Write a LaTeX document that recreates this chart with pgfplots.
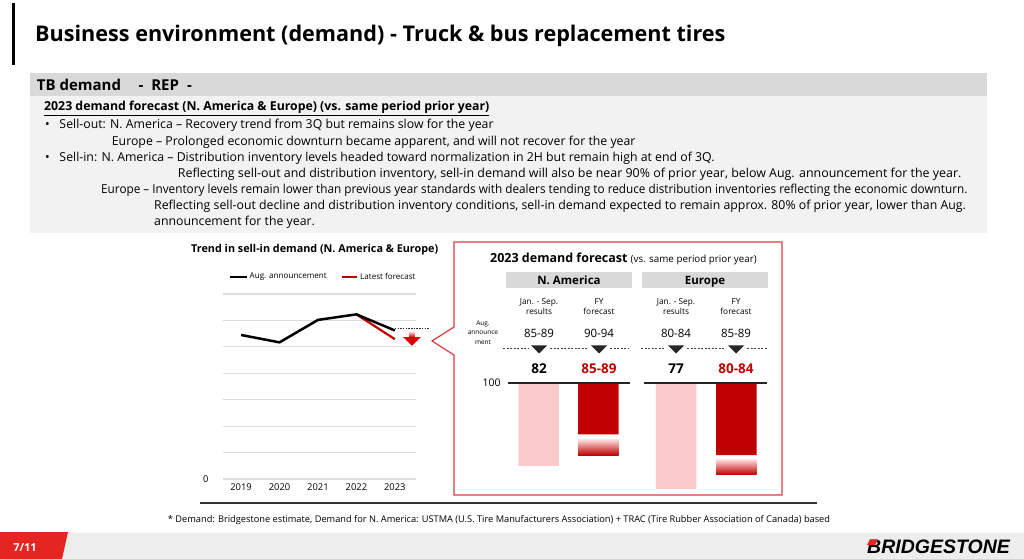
\documentclass[border=0pt]{standalone}
\usepackage{pgfplots}
\pgfplotsset{compat=1.18}
\usepackage{fontspec}
\setmainfont{Open Sans}
\newfontfamily\logofont{Liberation Sans}
\definecolor{hdrgray}{HTML}{D9D9D9}
\definecolor{boxgray}{HTML}{F2F2F2}
\definecolor{dred}{HTML}{C00000}
\definecolor{pinkbar}{HTML}{FBCBCB}
\definecolor{boxred}{HTML}{DF3A44}
\definecolor{footred}{HTML}{E52521}
\definecolor{footgray}{HTML}{EDEDED}
\definecolor{gridgray}{HTML}{DCDCDC}
\newcommand{\fs}[1]{\fontsize{#1bp}{#1bp}\selectfont}
\begin{document}
\begin{tikzpicture}
\begin{scope}[x=1bp,y=-1bp]
\fill[white] (0,0) rectangle (1024,559);
\fill[black] (11.5,3) rectangle (14.5,65);
\node[anchor=base west, inner sep=0] at (35,42) {\fs{21.6}\bfseries Business environment (demand) - Truck \& bus replacement tires};
\fill[hdrgray] (30,73) rectangle (987,96);
\fill[boxgray] (30,96) rectangle (987,233);
\node[anchor=base west, inner sep=0] at (36.7,90.5) {\fs{15}\bfseries TB demand};
\node[anchor=base west, inner sep=0] at (138.3,90.5) {\fs{15}\bfseries -\hspace{8bp}REP\hspace{8bp}-};
\begin{scope}[every node/.style={anchor=base west, inner sep=0, font=\fs{12.3}}]
\node at (44,110.7) {\bfseries\underline{2023 demand forecast (N. America \& Europe) (vs. same period prior year)}};
\node at (45,129) {•};
\node at (59.3,129) {Sell-out: N. America – Recovery trend from 3Q but remains slow for the year};
\node at (111.7,145.3) {Europe – Prolonged economic downturn became apparent, and will not recover for the year};
\node at (45,161.7) {•};
\node at (59.3,161.7) {Sell-in: N. America – Distribution inventory levels headed toward normalization in 2H but remain high at end of 3Q.};
\node at (177.7,177.5) {\scalebox{1.01}[1]{Reflecting sell-out and distribution inventory, sell-in demand will also be near 90\% of prior year, below Aug. announcement for the year.}};
\node at (101,193.5) {\scalebox{0.955}[1]{Europe – Inventory levels remain lower than previous year standards with dealers tending to reduce distribution inventories reflecting the economic downturn.}};
\node at (154,209.5) {Reflecting sell-out decline and distribution inventory conditions, sell-in demand expected to remain approx. 80\% of prior year, lower than Aug.};
\node at (154,225.5) {announcement for the year.};
\end{scope}
% footer
\fill[footgray] (0,533) rectangle (1024,559);
\fill[footred] (0,532) -- (68,532) -- (62,559) -- (0,559) -- cycle;
\node[anchor=base, inner sep=0, text=white] at (25,551) {\fs{11}\bfseries 7/11};
\node[anchor=base west, inner sep=0] at (867,553.5) {\logofont\fs{19.5}\bfseries\itshape BRIDGESTONE};
\fill[footred] (870,539.5) -- (878,539.5) -- (875,545) -- (867,545) -- cycle;
% bottom rule and footnote
\draw[black!80, line width=1.5] (200,503) -- (817,503);
\node[anchor=base, inner sep=0] at (499,522) {\fs{9.25}* Demand: Bridgestone estimate, Demand for N. America: USTMA (U.S. Tire Manufacturers Association) + TRAC (Tire Rubber Association of Canada) based};
% line chart title and legend
\node[anchor=base west, inner sep=0] at (191,253) {\fs{10.8}\bfseries Trend in sell-in demand (N. America \& Europe)};
\draw[black, line width=2.2] (230,276.7) -- (247,276.7);
\node[anchor=west, inner sep=0] at (249.5,276.7) {\fs{8.1}Aug. announcement};
\draw[dred, line width=2.2] (342,276.7) -- (357,276.7);
\node[anchor=west, inner sep=0] at (360,276.7) {\fs{8.1}Latest forecast};
% right panel box with pointer
\draw[boxred, line width=1.2, fill=white] (454,327) -- (454,242) -- (782,242) -- (782,495) -- (454,495) -- (454,355) -- (432,341) -- cycle;
\node[anchor=base west, inner sep=0] at (490,263) {\fs{12.5}\bfseries 2023 demand forecast {\mdseries\fs{9.8}(vs. same period prior year)}};
\fill[hdrgray] (506,272) rectangle (632,288);
\fill[hdrgray] (642,272) rectangle (768,288);
\node[inner sep=0, anchor=base] at (569,284.5) {\fs{11.5}\bfseries N. America};
\node[inner sep=0, anchor=base] at (705,284.5) {\fs{11.5}\bfseries Europe};
\begin{scope}[every node/.style={anchor=base, inner sep=0, font=\fs{8.3}}]
\node at (539,304.5) {Jan. - Sep.};
\node at (539,314.5) {results};
\node at (599,304.5) {FY};
\node at (599,314.5) {forecast};
\node at (676,304.5) {Jan. - Sep.};
\node at (676,314.5) {results};
\node at (736,304.5) {FY};
\node at (736,314.5) {forecast};
\end{scope}
\begin{scope}[every node/.style={anchor=base, inner sep=0, font=\fs{6.5}}]
\node at (483,325.3) {Aug.};
\node at (483,335) {announce};
\node at (483,344.3) {ment};
\end{scope}
\begin{scope}[every node/.style={anchor=base, inner sep=0, font=\fs{11.5}}]
\node at (539,338) {85-89};
\node at (599,338) {90-94};
\node at (676,338) {80-84};
\node at (736,338) {85-89};
\end{scope}
\draw[black!75, line width=0.8, dash pattern=on 2bp off 1.5bp] (503,348.5) -- (528,348.5) (550,348.5) -- (588,348.5) (610,348.5) -- (628,348.5) (641,348.5) -- (665,348.5) (687,348.5) -- (725,348.5) (747,348.5) -- (767,348.5);
\foreach \xx in {539,599,676,736} {\fill[black!85] (\xx-8,345.5) -- (\xx+8,345.5) -- (\xx,353.5) -- cycle;}
\begin{scope}[every node/.style={anchor=base, inner sep=0, font=\fs{13.5}\bfseries}]
\node at (539,374) {82};
\node[text=dred] at (599,374) {85-89};
\node at (676,374) {77};
\node[text=dred] at (736,374) {80-84};
\end{scope}
\node[anchor=base, inner sep=0] at (491.7,387) {\fs{10.5}100};
\end{scope}
% line chart
\begin{axis}[
  at={(223bp,-479bp)}, anchor=south west, scale only axis,
  width=193bp, height=185bp,
  xmin=2018.53, xmax=2023.55, ymin=0, ymax=7,
  axis x line*=bottom, axis y line*=left,
  axis line style={draw=none},
  tick style={draw=none},
  ytick={0,1,2,3,4,5,6,7},
  yticklabels={0,,,,,,,},
  xtick={2019,2020,2021,2022,2023},
  xticklabels={2019,2020,2021,2022,2023},
  ymajorgrids, grid style={gridgray, line width=1.2bp},
  ticklabel style={font=\fs{9.4}},
  xticklabel style={yshift=-1bp},
  yticklabel style={xshift=-11bp},
  clip=false,
]
\addplot[draw=black!80, line width=1bp, dash pattern=on 1.5bp off 1.2bp] coordinates {(2023,5.68) (2023.91,5.68)};
\addplot[dred, line width=2.2bp] coordinates {(2022,6.23) (2023,5.29)};
\addplot[black, line width=2.5bp] coordinates {(2019,5.45) (2020,5.17) (2021,6.02) (2022,6.23) (2023,5.62)};
\addplot[draw=none, top color=red!15, bottom color=red!85!black] coordinates {(2023.367,5.573) (2023.523,5.573) (2023.523,5.373) (2023.367,5.373)} -- cycle;
\addplot[draw=none, fill=red!85!black] coordinates {(2023.211,5.373) (2023.68,5.373) (2023.445,5.043)} -- cycle;
\end{axis}
% bar chart (drop from 100)
\begin{axis}[
  at={(500bp,-383bp)}, anchor=north west, scale only axis,
  width=280bp, height=115bp,
  xmin=500, xmax=780, ymin=0, ymax=25, y dir=reverse,
  hide axis, clip=false,
  bar width=40.5, bar shift=0pt,
]
\addplot[ybar, fill=pinkbar, draw=none] coordinates {(538.7,18) (676,23)};
\addplot[ybar, fill=dred, draw=none] coordinates {(598.3,11.15) (736.4,15.7)};
\addplot[draw=none, top color=red!12, middle color=white, bottom color=red!75!black] coordinates {(578.05,12.24) (618.55,12.24) (618.55,15.7) (578.05,15.7)} -- cycle;
\addplot[draw=none, top color=red!12, middle color=white, bottom color=red!75!black] coordinates {(716.15,16.6) (756.65,16.6) (756.65,19.9) (716.15,19.9)} -- cycle;
\addplot[black!85, line width=1.2bp] coordinates {(508,0) (630,0)};
\addplot[black!85, line width=1.2bp] coordinates {(644,0) (767,0)};
\end{axis}
\end{tikzpicture}
\end{document}
